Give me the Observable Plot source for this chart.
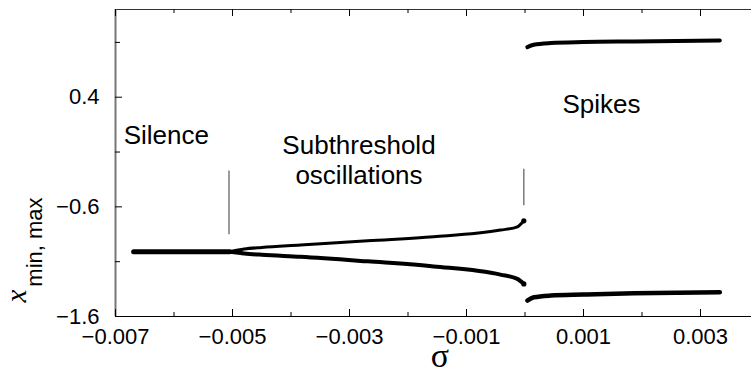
<!DOCTYPE html>
<html>
<head>
<meta charset="utf-8">
<script src="https://cdn.jsdelivr.net/npm/d3@7"></script>
<script src="https://cdn.jsdelivr.net/npm/@observablehq/plot@0.6"></script>
<style>
  body { margin: 0; background: #fff; }
  svg { display: block; }
</style>
</head>
<body>
<div id="chart"></div>
<script>
// ---- data ----
const silenceSigma = [-0.00669, -0.0058, -0.00505];
const silenceX     = [-1.01, -1.01, -1.01];

const oscSigma = [-0.00505, -0.0048, -0.0045, -0.00384, -0.00269, -0.00156, -0.00042, -0.00013, -0.00002];
const oscMax   = [-1.01, -0.985, -0.970, -0.948, -0.909, -0.873, -0.812, -0.782, -0.727];
const oscMin   = [-1.01, -1.025, -1.037, -1.055, -1.097, -1.143, -1.218, -1.257, -1.303];

const spikeSigma = [0.00004, 0.00015, 0.00044, 0.0010, 0.00186, 0.00333];
const spikeMax   = [0.857, 0.879, 0.894, 0.903, 0.909, 0.918];
const spikeMin   = [-1.455, -1.425, -1.409, -1.400, -1.388, -1.379];

const markerSigma = [-0.00506, -0.00002];
const markerLow   = [-0.855, -0.591];
const markerHigh  = [-0.273, -0.257];

const xMajorTicks = [-0.007, -0.005, -0.003, -0.001, 0.001, 0.003];
const xMajorLabels = ["\u22120.007", "\u22120.005", "\u22120.003", "\u22120.001", "0.001", "0.003"];
const xMinorTicks = [-0.006, -0.004, -0.002, 0, 0.002, 0.004];
const yMajorTicks = [-1.6, -0.6, 0.4];
const yMajorLabels = ["\u22121.6", "\u22120.6", "0.4"];
const yMinorTicks = [-1.1, -0.1, 0.9];

const startLabels = [
  {sigma: -0.00686, x: -0.027, text: "Silence"},
  {sigma: 0.000641, x: 0.2545, text: "Spikes"}
];
const middleLabels = [
  {sigma: -0.002838, x: -0.118, text: "Subthreshold"},
  {sigma: -0.002838, x: -0.391, text: "oscillations"}
];

// ---- build tables ----
const pts = (s, v) => s.map((d, i) => ({sigma: d, x: v[i]}));
const silence = pts(silenceSigma, silenceX);
const upperOsc = pts(oscSigma, oscMax);
const lowerOsc = pts(oscSigma, oscMin);
const upperSpk = pts(spikeSigma, spikeMax);
const lowerSpk = pts(spikeSigma, spikeMin);
const markers = markerSigma.map((s, i) => ({sigma: s, lo: markerLow[i], hi: markerHigh[i]}));
const ends = [upperOsc[upperOsc.length - 1], lowerOsc[lowerOsc.length - 1]];

const W = 751, H = 375;
const mL = 115, mT = 9, mB = 59;
const frameH = H - mT - mB;
const xRange = [mL, 758.5];
const font = "'Liberation Sans', Arial, sans-serif";

const plot = Plot.plot({
  width: W,
  height: H,
  marginLeft: mL,
  marginTop: mT,
  marginBottom: mB,
  marginRight: 0,
  style: {background: "#fff", fontFamily: font, overflow: "visible"},
  x: {domain: [-0.007, 0.004], range: xRange},
  y: {domain: [-1.6, 1.2]},
  marks: [
    // frame (right side lies outside the visible window)
    Plot.ruleY([-1.6], {stroke: "#000", strokeWidth: 1.2}),
    Plot.ruleY([1.2], {stroke: "#333", strokeWidth: 1.2}),
    Plot.ruleX([-0.007], {stroke: "#777", strokeWidth: 2}),
    // inward ticks bottom / top
    Plot.ruleX(xMajorTicks, {insetTop: frameH - 7, stroke: "#000"}),
    Plot.ruleX(xMinorTicks, {insetTop: frameH - 4, stroke: "#000"}),
    Plot.ruleX(xMajorTicks, {insetBottom: frameH - 7, stroke: "#000"}),
    Plot.ruleX(xMinorTicks, {insetBottom: frameH - 4, stroke: "#000"}),
    // inward ticks left
    Plot.ruleY(yMajorTicks, {insetRight: W - mL - 7, stroke: "#000"}),
    Plot.ruleY(yMinorTicks, {insetRight: W - mL - 5, stroke: "#000"}),
    // tick labels
    Plot.axisX(xMajorTicks, {
      tickSize: 0, tickPadding: 12, fontSize: 22, fill: "#000",
      tickFormat: d => xMajorLabels[xMajorTicks.indexOf(d)], label: null
    }),
    Plot.axisY(yMajorTicks, {
      tickSize: 0, tickPadding: 16, fontSize: 22, fill: "#000",
      tickFormat: d => yMajorLabels[yMajorTicks.indexOf(d)], label: null
    }),
    // region markers
    Plot.ruleX(markers, {x: "sigma", y1: "lo", y2: "hi", stroke: "#666", strokeWidth: 1.3}),
    // branches
    Plot.line(silence, {x: "sigma", y: "x", stroke: "#000", strokeWidth: 5, strokeLinecap: "round", curve: "monotone-x"}),
    Plot.line(upperOsc, {x: "sigma", y: "x", stroke: "#000", strokeWidth: 3, strokeLinecap: "round", curve: "monotone-x"}),
    Plot.line(lowerOsc, {x: "sigma", y: "x", stroke: "#000", strokeWidth: 4, strokeLinecap: "round", curve: "monotone-x"}),
    Plot.line(upperSpk, {x: "sigma", y: "x", stroke: "#000", strokeWidth: 4, strokeLinecap: "round", curve: "monotone-x"}),
    Plot.line(lowerSpk, {x: "sigma", y: "x", stroke: "#000", strokeWidth: 4.5, strokeLinecap: "round", curve: "monotone-x"}),
    Plot.dot(ends, {x: "sigma", y: "x", r: 2.6, fill: "#000", stroke: null}),
    // region labels
    Plot.text(startLabels, {
      x: "sigma", y: "x", text: "text", textAnchor: "start",
      lineAnchor: "bottom", fontSize: 26, fill: "#000", fontFamily: font
    }),
    Plot.text(middleLabels, {
      x: "sigma", y: "x", text: "text", textAnchor: "middle",
      lineAnchor: "bottom", fontSize: 26, fill: "#000", fontFamily: font
    })
  ]
});

const svg = d3.select(plot);
// y-axis title: x with subscript "min, max"
const yl = svg.append("text")
  .attr("transform", "translate(26,250) rotate(-90)")
  .attr("fill", "#000");
yl.append("tspan")
  .attr("font-family", "'Liberation Serif', 'Times New Roman', serif")
  .attr("font-style", "italic")
  .attr("font-size", 29)
  .text("x");
yl.append("tspan")
  .attr("font-family", font)
  .attr("font-size", 22)
  .attr("dx", 3)
  .attr("dy", 16)
  .text("min, max");
// x-axis title
svg.append("text")
  .attr("x", 440).attr("y", 367)
  .attr("text-anchor", "middle")
  .attr("font-family", "'Liberation Serif', 'Times New Roman', serif")
  .attr("font-size", 34)
  .attr("fill", "#000")
  .text("\u03c3");

document.getElementById("chart").appendChild(plot);
</script>
</body>
</html>
